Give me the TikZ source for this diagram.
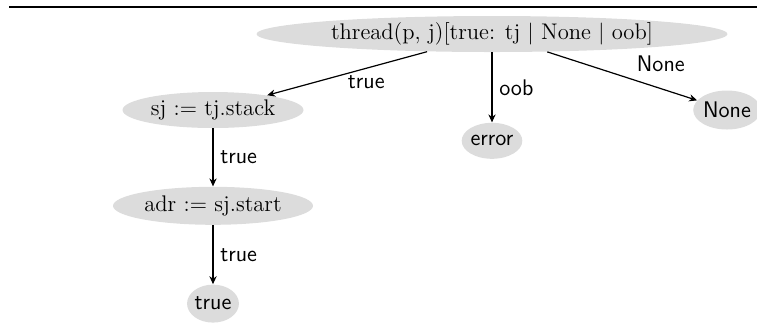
\documentclass[tikz,border=0pt]{standalone}
\usetikzlibrary{arrows.meta,positioning,shapes.geometric}
\definecolor{nodegray}{RGB}{220,220,220}
\newcommand{\diagfont}{\fontsize{11.3}{13.6}\selectfont}
\begin{document}
\begin{tikzpicture}[
  x=0.5pt,y=-0.5pt,
  stmt/.style={ellipse,fill=nodegray,inner sep=0pt,minimum height=18pt,font=\diagfont},
  leaf/.style={ellipse,fill=nodegray,inner sep=0pt,minimum height=18pt,font=\diagfont\sffamily},
  arr/.style={-{Stealth[length=4pt,width=3.6pt]},semithick},
  lbl/.style={font=\diagfont\sffamily}
]
\useasboundingbox (0,0) rectangle (757,329);
% ---------- top rule ----------
\coordinate (ruleL) at (9,7);
\coordinate (ruleR) at (757,7);
\draw[line width=1pt] (ruleL) -- (ruleR);
% ---------- root ----------
\node[stmt,minimum width=235.5pt] (thread) at (492,34) {thread(p, j)[true: tj $|$ None $|$ oob]};
% ---------- true branch ----------
\node[stmt,minimum width=90.5pt] (sj) at (213,110) {sj := tj.stack};
\node[stmt,minimum width=100pt,minimum height=19pt,below=29pt of sj] (adr) {adr := sj.start};
\node[leaf,minimum width=25pt,minimum height=19pt,below=29.5pt of adr] (ok) {true};
% ---------- other outcomes ----------
\node[leaf,minimum width=29.5pt,below=35pt of thread] (err) {error};
\node[leaf,minimum width=30pt,minimum height=19.5pt] (none) at (727,110) {None};
\draw[arr] (thread) -- node[lbl,pos=0.38,below] {true} (sj);
\draw[arr] (thread) -- node[lbl,right] {oob} (err);
\draw[arr] (thread) -- node[lbl,pos=0.55,above right] {None} (none);
\draw[arr] (sj) -- node[lbl,right] {true} (adr);
\draw[arr] (adr) -- node[lbl,right] {true} (ok);
\end{tikzpicture}
\end{document}
